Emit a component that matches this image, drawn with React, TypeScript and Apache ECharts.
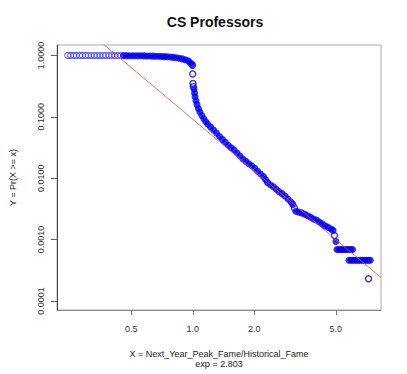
import React, { useEffect, useRef } from "react";
import * as echarts from "echarts";

// ---- data (x = ratio, y = P(X >= x)) ----
const flatSparseX = [0.245, 0.253, 0.262, 0.27, 0.28, 0.289, 0.299, 0.309, 0.319, 0.33, 0.341, 0.352, 0.364, 0.376, 0.389, 0.402, 0.416, 0.43, 0.444];
const flatSparseY = [1.0, 1.0, 1.0, 0.9998, 0.9997, 0.9996, 0.9995, 0.9994, 0.9993, 0.9992, 0.999, 0.9988, 0.9986, 0.9984, 0.9982, 0.998, 0.9977, 0.9974, 0.997];

const flatDenseX = [0.459, 0.474, 0.49, 0.507, 0.524, 0.542, 0.56, 0.579, 0.598, 0.618, 0.639, 0.66, 0.683, 0.706, 0.729, 0.753, 0.779, 0.805, 0.832, 0.86, 0.889, 0.919, 0.95, 0.971, 0.992];
const flatDenseY = [0.994, 0.993, 0.992, 0.99, 0.989, 0.988, 0.986, 0.984, 0.982, 0.979, 0.976, 0.972, 0.968, 0.963, 0.957, 0.95, 0.941, 0.93, 0.917, 0.9, 0.88, 0.85, 0.82, 0.76, 0.71];

const dropX = [0.997, 1.0, 1.003, 1.006];
const dropY = [0.69, 0.5, 0.35, 0.31];

const bodyX = [1.014, 1.02, 1.026, 1.037, 1.049, 1.066, 1.084, 1.108, 1.133, 1.158, 1.184, 1.224, 1.264, 1.307, 1.351, 1.396, 1.443, 1.492, 1.542, 1.594, 1.647, 1.702, 1.76, 1.819, 1.88, 1.943, 2.009, 2.076, 2.146, 2.218, 2.267, 2.318, 2.395, 2.476, 2.559, 2.645, 2.734, 2.826, 2.921, 3.019, 3.087, 3.191, 3.298, 3.409, 3.524, 3.642, 3.764, 3.89, 4.021, 4.156, 4.296, 4.44, 4.589, 4.744, 4.85];
const bodyY = [0.284, 0.245, 0.212, 0.183, 0.158, 0.136, 0.12, 0.105, 0.0928, 0.0831, 0.0758, 0.0679, 0.0608, 0.0545, 0.0479, 0.0429, 0.0385, 0.0344, 0.0314, 0.0287, 0.0257, 0.023, 0.0206, 0.0188, 0.0172, 0.0159, 0.0145, 0.013, 0.0117, 0.0106, 0.00953, 0.00854, 0.00779, 0.00724, 0.00661, 0.00603, 0.0056, 0.00511, 0.00458, 0.0041, 0.00374, 0.00289, 0.00279, 0.00272, 0.00259, 0.00245, 0.00232, 0.00216, 0.00208, 0.00193, 0.0018, 0.00167, 0.00158, 0.00149, 0.00141];

const tailX = [5.012, 5.068, 5.181, 5.297, 5.415, 5.535, 5.655, 5.782, 5.911, 6.043, 5.8, 5.93, 6.06, 6.2, 6.34, 6.48, 6.62, 6.77, 6.92, 7.07, 7.23, 7.37];
const tailY = [0.000928, 0.00069, 0.00069, 0.00069, 0.00069, 0.00069, 0.00069, 0.00069, 0.00069, 0.00069, 0.00046, 0.00046, 0.00046, 0.00046, 0.00046, 0.00046, 0.00046, 0.00046, 0.00046, 0.00046, 0.00046, 0.00046];

const looseX = [3.138, 4.931, 7.23];
const looseY = [0.00327, 0.00116, 0.00023];

// fitted power law: P(X >= x) = fitScale * x^(-fitExponent)
const fitExponent = 2.803;
const fitScale = 0.0912;

const xRange = [0.217, 8.32];
const yRange = [0.0000711, 1.48];

const xTickValues = [0.5, 1, 2, 5];
const yTickValues = [0.0001, 0.001, 0.01, 0.1, 1];

const titleText = "CS Professors";
const xName = "X = Next_Year_Peak_Fame/Historical_Fame\nexp = 2.803";
const yName = "Y = Pr(X >= x)";

const lg = (v: number) => Math.log10(v);
const pairs = (xs: number[], ys: number[]) => xs.map((x, i) => [lg(x), lg(ys[i])]);

export default function App() {
  const ref = useRef<HTMLDivElement>(null);
  useEffect(() => {
    document.body.style.margin = "0";
    const chart = echarts.init(ref.current!, null, { renderer: "svg" });
    const font = "Liberation Sans, Arial, Helvetica, sans-serif";
    const blue = "#0000f2";
    const fitData = xRange.map((x) => [lg(x), lg(fitScale * Math.pow(x, -fitExponent))]);
    chart.setOption({
      animation: false,
      backgroundColor: "#ffffff",
      title: {
        text: titleText,
        left: 215,
        top: 15,
        padding: 0,
        textAlign: "center",
        textStyle: { fontFamily: font, fontSize: 14, fontWeight: "bold", color: "#111" },
      },
      grid: {
        left: 50,
        right: 26,
        top: 45,
        bottom: 58,
        show: true,
        borderColor: "#aaaaaa",
        borderWidth: 1,
        backgroundColor: "transparent",
      },
      xAxis: {
        type: "value",
        min: lg(xRange[0]),
        max: lg(xRange[1]),
        name: xName,
        nameLocation: "middle",
        nameGap: 39,
        nameTextStyle: { fontFamily: font, fontSize: 9, color: "#222", lineHeight: 10 },
        axisLine: { show: true, onZero: false, lineStyle: { color: "#888", width: 1 } },
        axisTick: { show: true, length: 5, customValues: xTickValues.map(lg), lineStyle: { color: "#777" } },
        axisLabel: {
          customValues: xTickValues.map(lg),
          margin: 14,
          fontFamily: font,
          fontSize: 9,
          color: "#333",
          formatter: (v: number) => Math.pow(10, v).toFixed(1),
        },
        splitLine: { show: false },
      },
      yAxis: {
        type: "value",
        min: lg(yRange[0]),
        max: lg(yRange[1]),
        name: yName,
        nameLocation: "middle",
        nameRotate: 90,
        nameGap: 40,
        nameTextStyle: { fontFamily: font, fontSize: 9, color: "#222" },
        axisLine: { show: true, onZero: false, lineStyle: { color: "#444", width: 1 } },
        axisTick: { show: true, length: 6, customValues: yTickValues.map(lg), lineStyle: { color: "#666" } },
        axisLabel: {
          customValues: yTickValues.map(lg),
          rotate: 90,
          margin: 12,
          fontFamily: font,
          fontSize: 9,
          color: "#333",
          formatter: (v: number) => Math.pow(10, v).toFixed(4),
        },
        splitLine: { show: false },
      },
      series: [
        {
          type: "scatter",
          symbol: "circle",
          symbolSize: 6,
          data: pairs(flatSparseX, flatSparseY),
          itemStyle: { color: "rgba(0,0,0,0)", borderColor: "#4040ff", borderWidth: 1.1 },
          z: 2,
        },
        {
          type: "scatter",
          symbol: "circle",
          symbolSize: 7,
          data: pairs(flatDenseX, flatDenseY)
            .concat(pairs(bodyX, bodyY))
            .concat(pairs(tailX, tailY)),
          itemStyle: { color: blue },
          z: 2,
        },
        {
          type: "scatter",
          symbol: "circle",
          symbolSize: 6,
          data: pairs(dropX, dropY).concat(pairs(looseX, looseY)),
          itemStyle: { color: "rgba(0,0,0,0)", borderColor: blue, borderWidth: 1.4 },
          z: 3,
        },
        {
          type: "line",
          data: fitData,
          symbol: "none",
          clip: true,
          lineStyle: { color: "#f04848", width: 0.8 },
          z: 4,
        },
      ],
    });
    return () => chart.dispose();
  }, []);
  return <div ref={ref} style={{ width: 407, height: 374 }} />;
}
